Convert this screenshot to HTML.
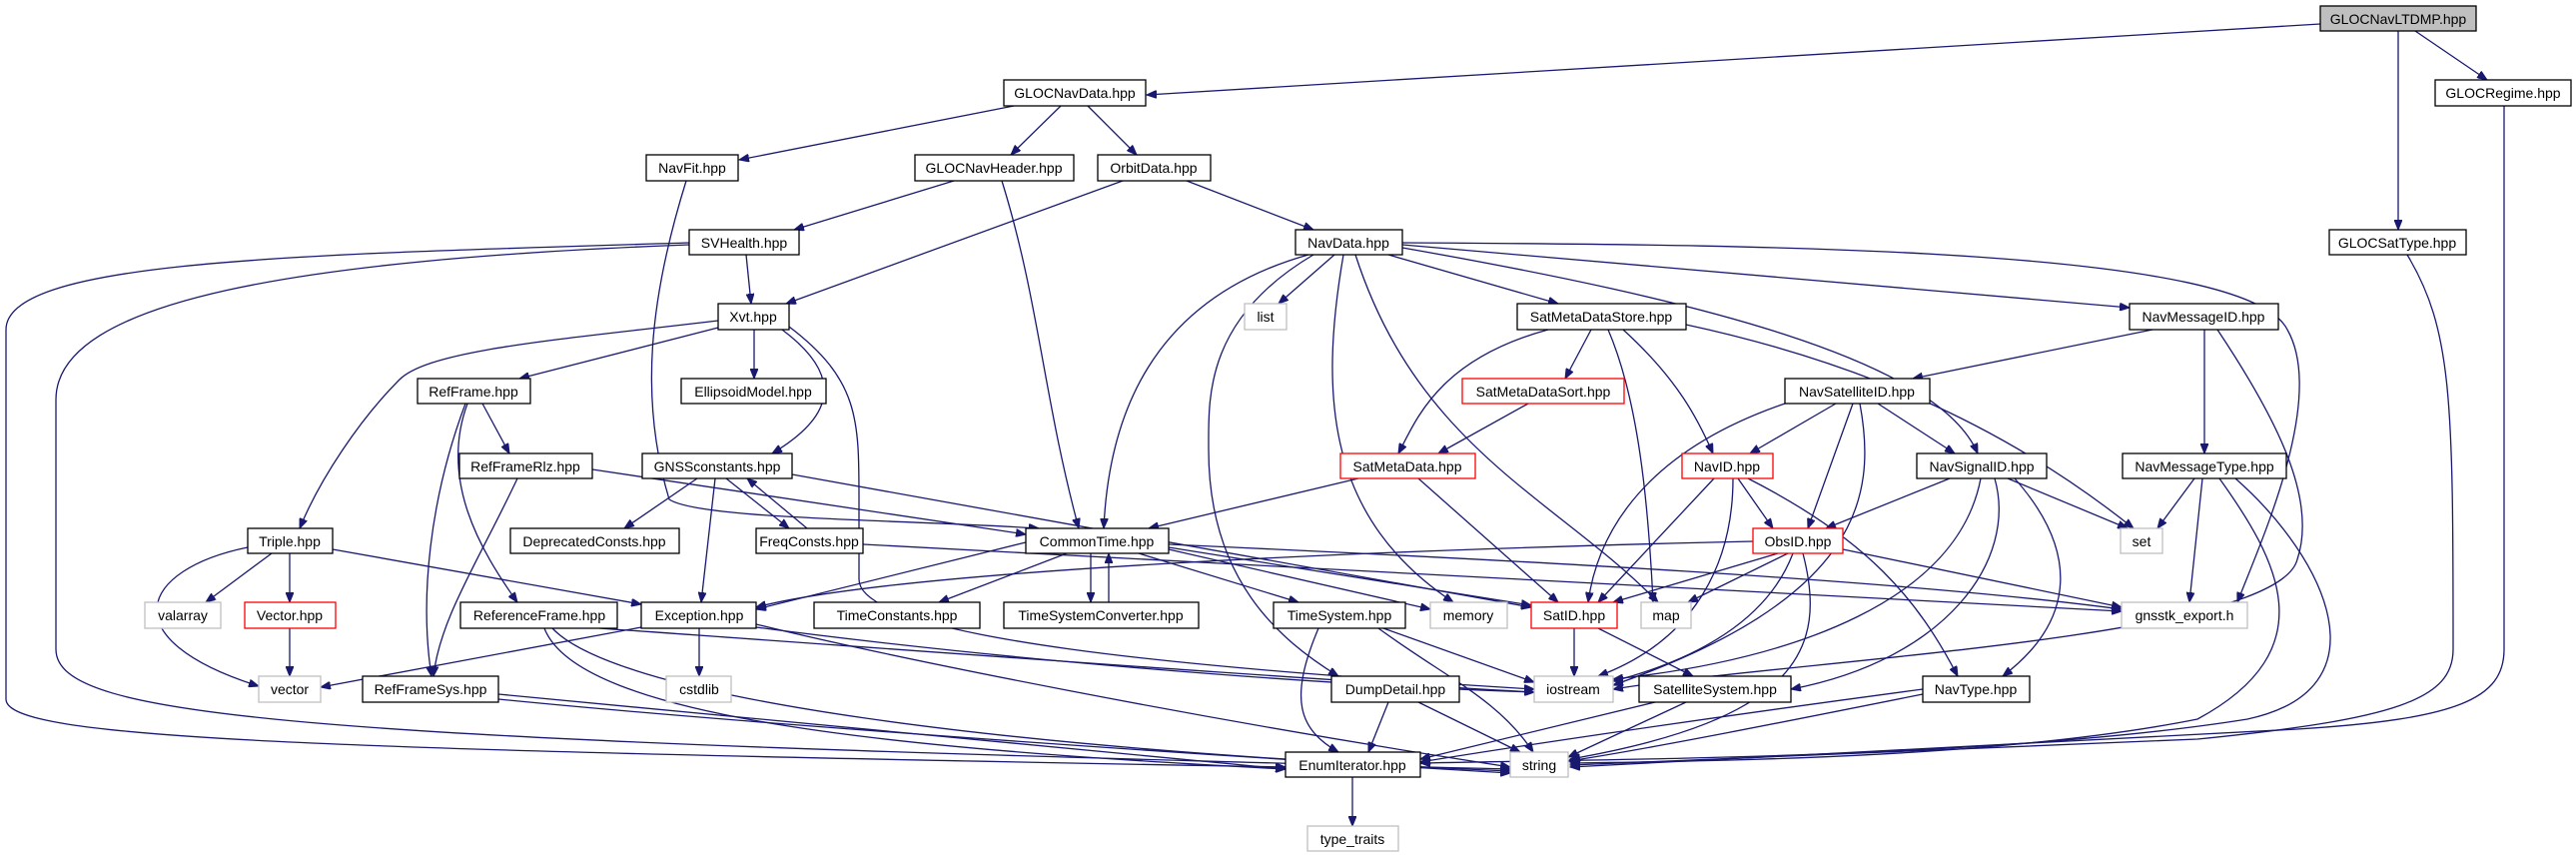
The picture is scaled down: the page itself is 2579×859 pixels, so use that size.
<!DOCTYPE html>
<html><head><meta charset="utf-8"><style>
html,body{margin:0;padding:0;background:#fff;}
svg{display:block;}
text{font-family:"Liberation Sans",sans-serif;font-size:14px;fill:#000;text-anchor:middle;}
.e path{fill:none;stroke:#191970;stroke-width:1.3;marker-end:url(#a);}
rect{fill:#fff;stroke:#000;stroke-width:1.3;}
rect.g{stroke:#bfbfbf;}
rect.r{stroke:#ff0000;}
rect.root{fill:#bfbfbf;}
</style></head><body>
<svg width="2579" height="859" viewBox="0 0 2579 859" xmlns="http://www.w3.org/2000/svg">
<defs><marker id="a" markerUnits="userSpaceOnUse" markerWidth="11" markerHeight="8" refX="10" refY="4" orient="auto"><path d="M0,0 L10,4 L0,8 z" fill="#191970" stroke="#191970"/></marker></defs>
<g class="e">
<path d="M2323,24 L1148,95"/>
<path d="M2418,31 L2490,80"/>
<path d="M2401,31 L2401,230"/>
<path d="M1015,106 L740,160"/>
<path d="M1062,106 L1012,155"/>
<path d="M1089,106 L1138,155"/>
<path d="M2507,106 L2507,650 C2507,700 2460,720 2300,730 L1572,768"/>
<path d="M2410,255 C2455,330 2456,400 2456,650 C2456,700 2400,720 2200,740 L1572,766"/>
<path d="M687,181 C650,300 640,400 670,500 C700,520 900,520 1040,529"/>
<path d="M955,181 L795,230"/>
<path d="M1003,181 C1040,300 1045,400 1080,529"/>
<path d="M1124,181 L787,304"/>
<path d="M1188,181 L1315,230"/>
<path d="M747,255 L752,304"/>
<path d="M690,243 C300,255 6,260 6,330 L6,700 C6,740 300,750 1287,768"/>
<path d="M690,245 C300,260 56,300 56,400 L56,650 C56,720 300,740 1512,770"/>
<path d="M719,328 L520,379"/>
<path d="M755,330 L755,379"/>
<path d="M719,321 C560,340 430,350 400,380 C360,420 320,480 300,529"/>
<path d="M783,330 C850,380 830,420 773,454"/>
<path d="M790,327 C860,380 860,420 860,500 L860,580 C860,640 1200,670 1536,690"/>
<path d="M1336,255 L1280,304"/>
<path d="M1390,255 L1560,304"/>
<path d="M1404,245 L2132,308"/>
<path d="M1404,248 C1700,300 1940,360 1980,454"/>
<path d="M1404,243 C1800,245 2250,250 2290,330 C2330,400 2260,550 2240,603"/>
<path d="M1310,255 C1150,300 1110,420 1105,529"/>
<path d="M1345,255 C1320,400 1330,520 1455,603"/>
<path d="M1357,255 C1420,450 1560,500 1660,603"/>
<path d="M1315,255 C1205,320 1210,400 1210,450 C1210,580 1280,640 1340,677"/>
<path d="M1593,330 L1567,379"/>
<path d="M1550,330 C1440,360 1418,420 1400,454"/>
<path d="M1625,330 C1680,380 1700,420 1715,454"/>
<path d="M1610,330 C1640,400 1650,500 1655,603"/>
<path d="M1688,325 C1850,360 2000,420 2136,529"/>
<path d="M1530,404 L1440,454"/>
<path d="M1360,479 L1150,529"/>
<path d="M1420,479 L1560,603"/>
<path d="M2155,330 L1915,379"/>
<path d="M2207,330 L2207,454"/>
<path d="M2220,330 C2280,420 2320,500 2300,560 C2280,640 1800,660 1615,690"/>
<path d="M1838,404 L1752,454"/>
<path d="M1880,404 L1957,454"/>
<path d="M1855,404 L1810,529"/>
<path d="M1790,403 C1650,450 1600,530 1590,603"/>
<path d="M1862,404 C1880,500 1860,600 1615,686"/>
<path d="M1740,479 L1775,529"/>
<path d="M1716,479 L1600,603"/>
<path d="M1750,479 C1870,540 1920,600 1960,677"/>
<path d="M1735,479 C1735,560 1700,640 1600,677"/>
<path d="M1952,479 L1828,529"/>
<path d="M2010,479 L2130,529"/>
<path d="M2017,479 C2080,550 2080,620 2005,677"/>
<path d="M1997,479 C2020,560 1950,660 1793,690"/>
<path d="M1983,479 C1960,600 1800,660 1615,680"/>
<path d="M2197,479 L2160,529"/>
<path d="M2205,479 L2192,603"/>
<path d="M2222,479 C2280,560 2330,650 2200,720 C2000,760 1700,762 1572,764"/>
<path d="M2238,479 C2330,560 2390,690 2250,720 C2000,760 1600,760 1422,764"/>
<path d="M1755,542 C1400,550 900,570 757,608"/>
<path d="M1780,554 L1615,603"/>
<path d="M1790,554 L1690,603"/>
<path d="M1795,554 C1770,620 1700,660 1615,682"/>
<path d="M1845,550 L2124,608"/>
<path d="M1805,554 C1830,650 1800,720 1572,760"/>
<path d="M483,404 L510,454"/>
<path d="M468,404 C440,480 480,550 518,603"/>
<path d="M466,404 C430,500 420,600 432,677"/>
<path d="M593,470 L1027,535"/>
<path d="M518,479 C480,560 440,620 434,677"/>
<path d="M698,479 L625,529"/>
<path d="M727,479 L790,529"/>
<path d="M808,529 L748,479"/>
<path d="M716,479 L702,603"/>
<path d="M793,475 L1533,608"/>
<path d="M864,545 L2124,612"/>
<path d="M272,554 L206,603"/>
<path d="M290,554 L290,603"/>
<path d="M248,548 C140,570 110,640 259,687"/>
<path d="M333,550 L642,605"/>
<path d="M290,629 L290,677"/>
<path d="M600,629 C900,650 1300,680 1536,693"/>
<path d="M545,629 C580,720 900,750 1287,770"/>
<path d="M553,629 C620,700 1000,750 1512,772"/>
<path d="M642,628 L321,688"/>
<path d="M700,629 L700,677"/>
<path d="M757,628 C1000,660 1300,685 1536,693"/>
<path d="M757,625 C900,660 1200,720 1512,768"/>
<path d="M499,695 L1287,770"/>
<path d="M499,700 C700,720 1100,750 1512,774"/>
<path d="M1027,543 L757,610"/>
<path d="M1068,554 L940,603"/>
<path d="M1092,554 L1092,603"/>
<path d="M1110,603 L1110,554"/>
<path d="M1140,554 L1300,603"/>
<path d="M1170,550 L1432,610"/>
<path d="M1170,548 L1533,606"/>
<path d="M1170,545 C1500,560 1900,580 2124,610"/>
<path d="M1320,629 C1290,700 1300,730 1340,753"/>
<path d="M1380,629 C1450,680 1500,700 1535,753"/>
<path d="M1385,629 L1536,683"/>
<path d="M1576,629 L1576,677"/>
<path d="M1600,629 L1695,677"/>
<path d="M1390,703 L1370,753"/>
<path d="M1420,703 L1522,753"/>
<path d="M1657,703 L1422,760"/>
<path d="M1688,703 L1570,758"/>
<path d="M1925,690 C1700,720 1500,750 1422,763"/>
<path d="M1925,695 C1800,720 1650,750 1570,762"/>
<path d="M1354,778 L1354,827"/>
</g>
<g>
<rect class="root" x="2323" y="6" width="156" height="25"/><text x="2401" y="24">GLOCNavLTDMP.hpp</text>
<rect x="1005" y="80" width="142" height="26"/><text x="1076" y="98">GLOCNavData.hpp</text>
<rect x="2438" y="80" width="136" height="26"/><text x="2506" y="98">GLOCRegime.hpp</text>
<rect x="647" y="155" width="92" height="26"/><text x="693" y="173">NavFit.hpp</text>
<rect x="916" y="155" width="159" height="26"/><text x="995" y="173">GLOCNavHeader.hpp</text>
<rect x="1099" y="155" width="113" height="26"/><text x="1155" y="173">OrbitData.hpp</text>
<rect x="690" y="230" width="110" height="25"/><text x="745" y="248">SVHealth.hpp</text>
<rect x="1297" y="230" width="107" height="25"/><text x="1350" y="248">NavData.hpp</text>
<rect x="2332" y="230" width="137" height="25"/><text x="2400" y="248">GLOCSatType.hpp</text>
<rect x="719" y="304" width="71" height="26"/><text x="754" y="322">Xvt.hpp</text>
<rect class="g" x="1246" y="304" width="42" height="26"/><text x="1267" y="322">list</text>
<rect x="1519" y="304" width="169" height="26"/><text x="1603" y="322">SatMetaDataStore.hpp</text>
<rect x="2132" y="304" width="149" height="26"/><text x="2206" y="322">NavMessageID.hpp</text>
<rect x="418" y="379" width="113" height="25"/><text x="474" y="397">RefFrame.hpp</text>
<rect x="682" y="379" width="145" height="25"/><text x="754" y="397">EllipsoidModel.hpp</text>
<rect class="r" x="1464" y="379" width="162" height="25"/><text x="1545" y="397">SatMetaDataSort.hpp</text>
<rect x="1787" y="379" width="145" height="25"/><text x="1859" y="397">NavSatelliteID.hpp</text>
<rect x="460" y="454" width="133" height="25"/><text x="526" y="472">RefFrameRlz.hpp</text>
<rect x="643" y="454" width="150" height="25"/><text x="718" y="472">GNSSconstants.hpp</text>
<rect class="r" x="1342" y="454" width="135" height="25"/><text x="1409" y="472">SatMetaData.hpp</text>
<rect class="r" x="1684" y="454" width="91" height="25"/><text x="1729" y="472">NavID.hpp</text>
<rect x="1919" y="454" width="130" height="25"/><text x="1984" y="472">NavSignalID.hpp</text>
<rect x="2125" y="454" width="164" height="25"/><text x="2207" y="472">NavMessageType.hpp</text>
<rect x="248" y="529" width="85" height="25"/><text x="290" y="547">Triple.hpp</text>
<rect x="511" y="529" width="169" height="25"/><text x="595" y="547">DeprecatedConsts.hpp</text>
<rect x="757" y="529" width="107" height="25"/><text x="810" y="547">FreqConsts.hpp</text>
<rect x="1027" y="529" width="143" height="25"/><text x="1098" y="547">CommonTime.hpp</text>
<rect class="r" x="1755" y="529" width="90" height="25"/><text x="1800" y="547">ObsID.hpp</text>
<rect class="g" x="2123" y="529" width="42" height="25"/><text x="2144" y="547">set</text>
<rect class="g" x="145" y="603" width="76" height="26"/><text x="183" y="621">valarray</text>
<rect class="r" x="245" y="603" width="91" height="26"/><text x="290" y="621">Vector.hpp</text>
<rect x="461" y="603" width="157" height="26"/><text x="540" y="621">ReferenceFrame.hpp</text>
<rect x="642" y="603" width="115" height="26"/><text x="700" y="621">Exception.hpp</text>
<rect x="815" y="603" width="166" height="26"/><text x="898" y="621">TimeConstants.hpp</text>
<rect x="1005" y="603" width="195" height="26"/><text x="1102" y="621">TimeSystemConverter.hpp</text>
<rect x="1275" y="603" width="132" height="26"/><text x="1341" y="621">TimeSystem.hpp</text>
<rect class="g" x="1432" y="603" width="77" height="26"/><text x="1470" y="621">memory</text>
<rect class="r" x="1533" y="603" width="86" height="26"/><text x="1576" y="621">SatID.hpp</text>
<rect class="g" x="1643" y="603" width="50" height="26"/><text x="1668" y="621">map</text>
<rect class="g" x="2124" y="603" width="126" height="26"/><text x="2187" y="621">gnsstk_export.h</text>
<rect class="g" x="259" y="677" width="62" height="26"/><text x="290" y="695">vector</text>
<rect x="363" y="677" width="136" height="26"/><text x="431" y="695">RefFrameSys.hpp</text>
<rect class="g" x="667" y="677" width="65" height="26"/><text x="700" y="695">cstdlib</text>
<rect x="1333" y="677" width="128" height="26"/><text x="1397" y="695">DumpDetail.hpp</text>
<rect class="g" x="1536" y="677" width="79" height="26"/><text x="1575" y="695">iostream</text>
<rect x="1641" y="677" width="152" height="26"/><text x="1717" y="695">SatelliteSystem.hpp</text>
<rect x="1925" y="677" width="107" height="26"/><text x="1978" y="695">NavType.hpp</text>
<rect x="1287" y="753" width="135" height="25"/><text x="1354" y="771">EnumIterator.hpp</text>
<rect class="g" x="1512" y="753" width="58" height="25"/><text x="1541" y="771">string</text>
<rect class="g" x="1309" y="827" width="91" height="25"/><text x="1354" y="845">type_traits</text>
</g>
</svg>
</body></html>
